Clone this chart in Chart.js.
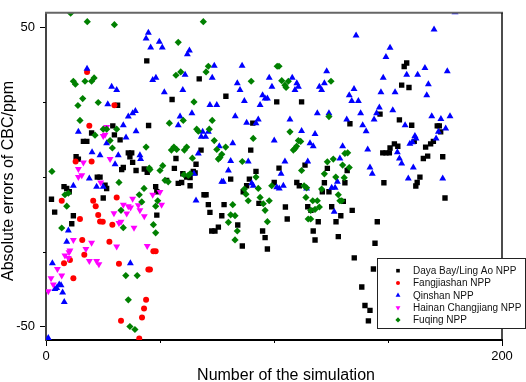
<!DOCTYPE html>
<html lang="en">
<head>
<meta charset="UTF-8">
<title>Absolute errors of CBC</title>
<script src="https://cdn.jsdelivr.net/npm/chart.js"></script>
<style>
  body { margin: 0; background: #fff; }
  .chart-box { width: 526px; height: 382px; position: relative; }
</style>
</head>
<body>
<div class="chart-box"><canvas id="cbcChart"></canvas></div>
<script>
// x = number of the simulation, y = absolute error of CBC (ppm)
const seriesNames = ['Daya Bay/Ling Ao NPP', 'Fangjiashan NPP', 'Qinshan NPP', 'Hainan Changjiang NPP', 'Fuqing NPP'];

const dayaBayX = [2.4,3.8,44.2,55.3,31.4,45.0,20.0,29.3,30.0,16.4,17.9,32.5,13.2,14.2,22.5,23.7,25.9,26.6,36.1,37.6,36.8,38.0,39.5,33.2,33.9,43.1,44.4,57.0,56.3,52.9,58.0,59.5,7.9,9.1,10.2,25.1,48.1,48.6,12.0,48.6,11.3,
  67.2,78.9,90.7,101.2,112.1,68.0,89.8,65.8,102.2,113.6,92.1,60.0,61.7,63.2,64.6,65.4,81.0,89.2,63.2,88.0,100.1,110.0,111.1,86.5,69.3,70.2,93.4,71.2,78.1,71.9,105.0,114.8,77.1,105.8,84.1,75.6,72.7,74.1,95.0,96.1,86.1,97.1,
  158.2,157.1,156.0,159.2,146.5,133.3,155.0,160.4,171.6,172.5,173.1,147.7,149.1,150.6,150.9,152.8,154.3,161.5,166.5,169.9,168.7,165.5,167.4,174.0,123.4,132.1,164.0,162.8,162.2,122.1,131.1,148.2,121.2,124.1,130.4,175.0,
  116.2,125.3,134.3,129.3,119.4,127.2,145.3,117.2,128.2,118.0,144.3,135.2,143.6,138.5,139.9,142.1,141.4];
const dayaBayY = [-7.5,-11.8,38.7,25.8,23.9,17.1,14.6,17.0,14.0,11.8,11.8,12.3,6.7,5.9,-0.1,-0.1,-2.8,-3.9,8.0,8.0,6.7,4.8,2.1,2.4,3.1,2.6,1.5,6.1,2.8,-1.2,-2.2,-1.9,-3.3,-3.9,-5.0,-7.1,-3.3,-5.0,-13.0,-12.8,-15.7,
  32.7,26.9,17.9,25.0,25.0,8.9,8.9,4.2,2.9,3.9,1.8,1.0,-0.1,-0.3,1.8,1.3,-0.8,-0.8,-3.0,-3.0,-1.9,-1.9,-3.0,-5.0,-6.0,-6.0,-8.9,-9.3,-9.3,-11.9,-10.1,-10.0,-13.0,-14.1,-16.1,-16.8,-18.1,-18.1,-18.1,-20.3,-23.1,-24.1,
  38.0,36.8,30.6,29.8,20.9,17.7,19.0,17.2,17.0,17.0,15.0,8.0,8.0,8.0,9.6,11.0,10.2,11.8,9.9,11.8,11.0,6.1,6.9,6.7,2.8,2.1,-0.1,-1.9,-3.1,-2.0,-2.0,-2.0,-5.0,-5.0,-8.2,-7.1,
  -11.2,-10.0,-11.2,-13.0,-15.0,-15.0,-15.0,-18.1,-20.0,-21.1,-22.2,-27.1,-30.8,-36.8,-43.0,-44.6,-48.1];

const fangjiashanX = [18.0,30.0,19.0,20.0,13.0,6.9,31.0,20.7,21.8,22.9,23.7,24.9,14.9,29.1,15.9,27.8,47.1,48.1,16.8,10.5,7.9,32.0,44.9,45.6,12.0,43.9,43.0,42.1,32.9,40.9];
const fangjiashanY = [35.0,23.9,17.0,5.1,5.1,-8.0,-6.9,-8.0,-9.8,-12.8,-14.9,-15.0,-14.1,-16.0,-21.1,-21.7,-24.9,-24.9,-26.0,-27.8,-28.9,-29.0,-31.0,-31.0,-33.9,-41.1,-44.0,-47.0,-48.1,-54.0];

const qinshanX = [44.9,43.9,49.7,45.9,51.0,62.9,62.0,18.0,28.8,31.0,61.0,46.8,48.2,51.9,60.0,27.1,36.1,38.0,39.2,33.9,58.8,58.0,14.2,39.5,26.6,31.7,20.2,23.7,41.2,41.5,30.3,35.1,19.0,22.2,25.1,12.0,9.8,9.1,37.0,6.6,7.3,8.0,2.8,3.9,5.8,4.7,1.0,
  73.8,86.0,72.9,83.9,85.1,97.9,99.1,108.0,110.0,110.7,109.2,95.0,96.1,97.1,93.9,87.0,71.9,74.9,64.0,83.0,93.1,92.1,88.0,107.0,68.7,71.2,112.1,68.1,70.0,100.1,81.9,76.0,66.8,81.0,88.7,104.8,114.8,80.0,64.9,103.1,77.1,77.8,90.2,90.9,101.2,102.3,104.1,65.8,
  136.0,150.9,149.1,123.1,166.2,163.0,158.2,167.7,147.9,119.9,122.1,120.9,135.1,133.0,134.1,137.0,146.9,153.1,167.0,146.2,145.0,152.1,119.0,124.1,138.0,131.9,143.9,157.5,138.9,140.4,118.0,161.8,179.4,170.2,176.0,169.2,173.2,177.2,172.1,175.3,
  115.8,117.2,130.1,141.1,162.3,160.7,159.6,171.1,154.1,155.0,156.0,128.9,142.1,143.1,161.1,158.9,127.8,114.3,125.3,126.8,126.4,174.0];
const qinshanY = [48.1,46.2,45.1,43.2,43.2,42.2,40.9,36.1,30.1,29.0,34.1,32.3,33.1,28.2,29.0,24.2,20.1,21.2,22.0,17.2,20.1,17.2,15.0,15.2,11.2,7.2,8.2,7.2,7.2,5.9,4.2,13.1,-0.6,-3.3,-3.3,-3.0,-17.9,-21.7,-28.9,-36.2,-38.6,-41.8,-28.9,-37.5,-36.0,-37.1,-53.8,
  37.1,37.1,33.1,31.2,29.0,33.1,30.1,33.1,31.2,30.1,29.0,27.2,26.1,26.1,24.0,25.3,24.0,24.0,21.2,20.2,19.1,17.9,18.0,19.1,15.0,15.0,15.3,13.4,13.4,12.1,11.2,10.2,7.8,5.3,5.1,5.1,5.1,2.1,1.0,1.0,-1.7,-1.7,-2.2,-3.0,-3.5,-3.9,-3.0,-7.9,
  47.2,43.1,40.0,35.2,36.3,34.1,34.1,30.9,33.1,30.1,31.2,29.0,29.3,27.2,25.3,25.3,28.2,28.2,27.2,23.1,21.2,22.2,21.2,21.2,21.2,19.1,19.1,17.2,17.2,15.2,14.3,13.6,54.9,49.2,35.2,20.2,19.3,20.2,15.0,16.1,
  11.2,10.2,10.2,9.1,12.8,11.5,11.0,12.8,8.2,6.1,4.4,6.1,3.1,1.0,3.1,-0.6,-1.7,-3.9,-3.7,-3.7,-11.7,-0.6];

const hainanX = [26.6,25.9,25.1,28.1,16.4,14.2,15.7,14.2,24.0,38.0,46.8,50.0,33.9,36.1,37.1,40.5,41.2,50.7,29.8,35.4,43.1,32.9,32.0,38.6,12.0,20.0,17.5,10.5,44.4,31.0,10.1,8.3,9.8,19.0,22.2,23.2,6.9,2.2,3.2,1.0,5.0];
const hainanY = [16.6,14.0,13.6,5.9,4.8,2.6,0.5,-0.1,-1.9,-7.3,-6.0,-5.1,-9.3,-9.8,-10.3,-9.5,-11.2,-9.3,-12.2,-12.3,-13.2,-15.0,-15.4,-17.0,-21.1,-22.0,-24.1,-24.6,-23.1,-23.3,-25.2,-26.3,-27.1,-28.1,-28.1,-29.2,-33.0,-33.9,-36.0,-38.2,-30.8];

const fuqingX = [2.6,10.8,18.1,30.0,58.0,12.0,12.9,17.1,20.0,21.1,57.0,59.1,16.1,14.0,22.9,54.1,60.2,14.9,25.1,26.6,31.0,21.5,28.1,29.1,43.9,45.3,45.6,50.0,51.2,55.0,56.1,57.3,61.7,60.7,53.6,52.2,60.5,62.4,32.0,8.3,9.8,9.1,43.0,40.9,42.0,49.0,48.1,32.9,6.9,33.9,47.1,48.1,35.0,40.0,36.1,36.8,39.0,
  69.0,71.2,70.2,101.4,102.2,90.0,103.4,104.8,105.3,106.3,64.9,72.9,66.1,66.8,71.6,107.0,110.7,90.9,73.8,74.9,78.8,109.9,109.2,108.5,77.1,76.3,75.6,64.2,86.1,112.1,63.2,92.1,93.1,99.0,113.2,114.3,87.0,87.7,88.7,93.9,114.0,97.9,95.3,96.1,81.9,81.0,82.9,80.0,97.1,83.9,82.9,
  125.0,124.1,111.7,132.3,131.1,123.4,126.0,130.1,133.0,122.1,127.1,130.8,120.9,128.2,117.0,119.0,119.9,118.0,116.1,128.9,129.7,115.0,116.1];
const fuqingY = [1.8,54.6,51.8,50.8,44.9,31.9,30.9,31.9,31.9,33.0,33.9,35.0,26.1,23.8,24.8,17.9,18.8,18.8,15.9,15.9,15.9,13.9,12.1,9.6,9.9,2.9,2.4,2.1,3.7,8.9,9.9,9.1,9.9,8.9,-1.7,-1.2,0.7,0.5,-1.9,-6.0,-5.5,-9.8,-3.9,-6.0,-8.4,-8.0,-9.8,-11.2,-17.1,-17.0,-16.0,-18.7,-33.0,-33.0,-41.1,-50.0,-51.0,
  51.8,36.9,35.0,36.9,36.9,31.9,32.1,30.6,29.8,31.9,25.0,18.8,15.9,15.2,15.9,15.0,12.1,12.8,12.1,9.1,9.9,10.2,9.4,8.9,7.5,6.4,5.9,6.2,5.1,2.1,1.0,-0.1,-3.9,-3.0,-3.0,-3.7,-4.1,-5.8,-8.0,-6.9,-6.9,-8.0,-9.0,-11.2,-9.3,-12.7,-13.0,-15.2,-15.0,-18.1,-21.1,
  31.9,20.1,11.8,8.0,7.8,5.0,5.9,3.9,3.1,1.0,-0.1,-0.3,-4.1,-6.0,-8.0,-8.0,-10.1,-10.9,-11.2,-8.0,-8.0,-14.1,-14.1];

const yMajorTicks = [-50, 50];
const yMinorTicks = [-25, 0, 25];
const xMajorTicks = [0, 200];
const xMinorTicks = [50, 100, 150];

const FONT = '"Liberation Sans", Arial, sans-serif';

function pairUp(xs, ys) {
  return xs.map((x, i) => ({ x: x, y: ys[i] }));
}

const markers = [
  { style: 'rect', rot: 0, r: 3.8, color: '#000000', legendStyle: 'square', lr: 1.8 },
  { style: 'circle', rot: 0, r: 3, color: '#ff0000', legendStyle: 'circle', lr: 2 },
  { style: 'triangle', rot: 0, r: 4, color: '#0000ff', legendStyle: 'up', lr: 2.8 },
  { style: 'triangle', rot: 180, r: 4, color: '#ff00ff', legendStyle: 'down', lr: 2.8 },
  { style: 'rectRot', rot: 0, r: 3.6, color: '#008000', legendStyle: 'diamond', lr: 2.6 }
];
const allX = [dayaBayX, fangjiashanX, qinshanX, hainanX, fuqingX];
const allY = [dayaBayY, fangjiashanY, qinshanY, hainanY, fuqingY];

const datasets = seriesNames.map((name, i) => ({
  label: name,
  data: pairUp(allX[i], allY[i]),
  pointStyle: markers[i].style,
  rotation: markers[i].rot,
  pointRadius: markers[i].r,
  backgroundColor: markers[i].color,
  borderColor: markers[i].color,
  borderWidth: 0,
  order: 4 - i
}));

function drawMarker(ctx, kind, cx, cy, r, color) {
  ctx.fillStyle = color;
  ctx.beginPath();
  if (kind === 'square') {
    ctx.rect(cx - r, cy - r, 2 * r, 2 * r);
  } else if (kind === 'circle') {
    ctx.arc(cx, cy, r, 0, Math.PI * 2);
  } else if (kind === 'up') {
    ctx.moveTo(cx, cy - r);
    ctx.lineTo(cx + r * 0.87, cy + r * 0.5);
    ctx.lineTo(cx - r * 0.87, cy + r * 0.5);
  } else if (kind === 'down') {
    ctx.moveTo(cx, cy + r);
    ctx.lineTo(cx + r * 0.87, cy - r * 0.5);
    ctx.lineTo(cx - r * 0.87, cy - r * 0.5);
  } else {
    ctx.moveTo(cx, cy - r);
    ctx.lineTo(cx + r, cy);
    ctx.lineTo(cx, cy + r);
    ctx.lineTo(cx - r, cy);
  }
  ctx.closePath();
  ctx.fill();
}

// minor ticks, the top/right frame, axis titles and the boxed legend
const decorations = {
  id: 'decorations',
  afterDraw(chart) {
    const ctx = chart.ctx;
    const a = chart.chartArea;
    const xs = chart.scales.x, ys = chart.scales.y;
    ctx.save();

    ctx.strokeStyle = '#000';
    ctx.lineWidth = 1;
    yMinorTicks.forEach(v => {
      const py = Math.round(ys.getPixelForValue(v)) + 0.5;
      ctx.beginPath(); ctx.moveTo(a.left - 3, py); ctx.lineTo(a.left, py); ctx.stroke();
    });
    xMinorTicks.forEach(v => {
      const px = Math.round(xs.getPixelForValue(v)) + 0.5;
      ctx.beginPath(); ctx.moveTo(px, a.bottom); ctx.lineTo(px, a.bottom + 3); ctx.stroke();
    });

    ctx.lineWidth = 2;
    ctx.strokeStyle = '#666';
    ctx.beginPath(); ctx.moveTo(a.left - 1, a.top); ctx.lineTo(a.right + 1, a.top); ctx.stroke();
    ctx.strokeStyle = '#111';
    ctx.lineWidth = 1.5;
    ctx.beginPath(); ctx.moveTo(a.right, a.top); ctx.lineTo(a.right, a.bottom); ctx.stroke();

    ctx.fillStyle = '#000';
    ctx.font = '16px ' + FONT;
    ctx.textAlign = 'center';
    ctx.textBaseline = 'alphabetic';
    ctx.fillText('Number of the simulation', 286, 380);
    ctx.save();
    ctx.translate(13, 181);
    ctx.rotate(-Math.PI / 2);
    ctx.fillText('Absolute errors of CBC/ppm', 0, 0);
    ctx.restore();

    // legend box
    const lx = 377.5, ly = 258.5, lw = 148, lh = 70;
    ctx.fillStyle = '#fff';
    ctx.fillRect(lx, ly, lw, lh);
    ctx.strokeStyle = '#222';
    ctx.lineWidth = 1;
    ctx.strokeRect(lx, ly, lw, lh);
    ctx.font = '10px ' + FONT;
    ctx.textAlign = 'left';
    ctx.textBaseline = 'middle';
    seriesNames.forEach((name, i) => {
      const rowY = 270.7 + i * 12.3;
      drawMarker(ctx, markers[i].legendStyle, 398, rowY, markers[i].lr, markers[i].color);
      ctx.fillStyle = '#111';
      ctx.fillText(name, 413, rowY + 0.5);
    });
    ctx.restore();
  }
};

new Chart(document.getElementById('cbcChart'), {
  type: 'scatter',
  data: { datasets: datasets },
  options: {
    responsive: true,
    maintainAspectRatio: false,
    animation: false,
    events: [],
    layout: { padding: { left: 0, right: 24, top: 2, bottom: 0 } },
    plugins: { legend: { display: false }, tooltip: { enabled: false } },
    scales: {
      x: {
        type: 'linear',
        min: 0,
        max: 200,
        afterFit: s => { s.height = 42; },
        afterBuildTicks: s => { s.ticks = xMajorTicks.map(v => ({ value: v })); },
        ticks: { color: '#000', font: { family: FONT, size: 13 }, padding: 3, autoSkip: false, maxRotation: 0 },
        grid: { drawOnChartArea: false, drawTicks: true, tickLength: 6, color: '#000', lineWidth: 1 },
        border: { display: true, color: '#000', width: 2 }
      },
      y: {
        type: 'linear',
        min: -54.5,
        max: 54.75,
        afterFit: s => { s.width = 46; },
        afterBuildTicks: s => { s.ticks = yMajorTicks.map(v => ({ value: v })); },
        ticks: { color: '#000', font: { family: FONT, size: 13 }, padding: 5 },
        grid: { drawOnChartArea: false, drawTicks: true, tickLength: 6, color: '#000', lineWidth: 1 },
        border: { display: true, color: '#444', width: 2 }
      }
    }
  },
  plugins: [decorations]
});
</script>
</body>
</html>
